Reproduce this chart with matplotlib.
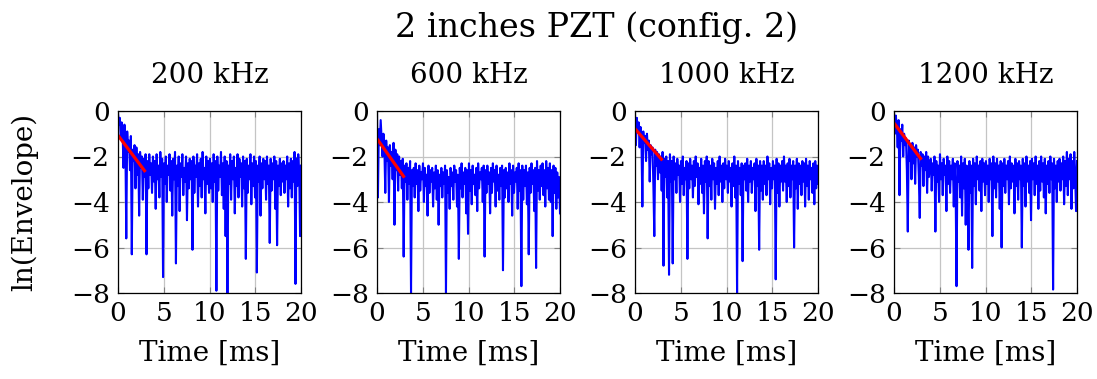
import numpy as np
import matplotlib
matplotlib.use("Agg")
import matplotlib.pyplot as plt

plt.rcParams['font.family'] = ['DejaVu Serif']

suptitle = "2 inches PZT (config. 2)"
freq_labels = ["200 kHz", "600 kHz", "1000 kHz", "1200 kHz"]
xlabel = "Time [ms]"
ylabel = "ln(Envelope)"
xticks = [0, 5, 10, 15, 20]
yticks = [0, -2, -4, -6, -8]
t_start, t_end = 0.0, 20.0

env_200 = [
    -0.1, -0.6, -0.3, -1.2, -0.5, -1.0, -2.5, -0.6, -1.4, -5.6, -0.9, -1.8, -1.3, -2.6, -1.1, -6.3, -1.7, -2.2, -1.5, -3.4,
    -1.6, -2.8, -1.9, -4.6, -1.8, -2.5, -2.0, -3.9, -2.1, -2.9, -1.9, -6.3, -2.2, -3.4, -1.9, -2.8, -2.3, -3.6, -2.0, -3.1,
    -2.2, -4.3, -1.9, -3.0, -2.4, -3.8, -1.8, -2.9, -2.1, -7.3, -2.3, -3.2, -2.0, -4.0, -2.4, -2.8, -1.9, -3.5, -2.2, -4.6,
    -2.1, -3.0, -1.8, -6.7, -2.4, -3.3, -2.0, -4.4, -2.3, -2.9, -1.9, -3.7, -2.5, -3.1, -2.0, -4.8, -2.3, -3.4, -2.1, -3.0,
    -2.2, -6.1, -2.0, -3.6, -2.4, -2.9, -1.9, -4.2, -2.3, -3.3, -2.1, -3.8, -1.8, -3.0, -2.5, -4.5, -2.0, -3.2, -2.2, -3.6,
    -2.1, -3.4, -2.3, -4.0, -1.9, -3.1, -2.2, -7.9, -2.0, -3.5, -2.4, -2.9, -1.8, -3.7, -2.3, -4.3, -2.0, -5.5, -2.2, -8.0,
    -2.4, -3.2, -1.9, -3.9, -2.2, -3.0, -2.0, -4.5, -2.5, -3.3, -1.9, -3.8, -2.1, -2.9, -2.3, -4.2, -2.0, -3.4, -2.2, -6.5,
    -2.1, -3.6, -2.4, -3.0, -1.9, -4.1, -2.3, -3.3, -2.0, -3.8, -2.2, -7.1, -2.4, -3.1, -2.0, -4.6, -2.3, -3.4, -2.1, -3.0,
    -2.2, -3.9, -2.0, -3.2, -2.4, -5.8, -2.1, -3.5, -2.3, -3.0, -2.0, -4.3, -2.2, -5.9, -2.4, -3.3, -2.1, -3.7, -2.3, -3.1,
    -2.2, -3.6, -2.4, -3.0, -2.0, -4.2, -2.3, -3.4, -2.1, -3.8, -2.2, -3.1, -1.8, -7.6, -2.1, -3.3, -1.9, -2.6, -5.5, -2.4,
]

env_600 = [
    -0.1, -3.8, -0.8, -1.5, -0.4, -1.2, -2.0, -1.0, -1.6, -3.6, -1.3, -2.2, -1.6, -4.0, -1.5, -2.4, -1.8, -3.0, -1.4, -5.0,
    -1.7, -2.6, -1.9, -3.5, -2.0, -2.8, -2.2, -3.4, -2.1, -6.4, -2.4, -3.1, -2.3, -3.9, -2.5, -3.2, -2.2, -8.0, -2.6, -3.3,
    -2.5, -3.8, -2.3, -3.2, -2.6, -4.4, -2.4, -3.5, -2.7, -3.0, -2.3, -4.0, -2.5, -3.3, -2.8, -4.6, -2.4, -3.6, -2.6, -3.1,
    -2.5, -4.2, -2.7, -3.4, -2.4, -3.9, -2.6, -5.0, -2.8, -3.3, -2.5, -3.8, -2.7, -3.2, -2.4, -8.0, -2.6, -3.6, -2.9, -4.3,
    -2.5, -3.3, -2.7, -3.9, -2.4, -3.1, -2.6, -4.2, -2.8, -6.5, -2.5, -3.4, -2.3, -3.8, -2.7, -3.2, -2.5, -4.5, -2.6, -5.4,
    -2.3, -3.5, -2.6, -4.1, -2.4, -3.2, -2.8, -3.7, -2.5, -4.4, -2.3, -3.4, -2.7, -3.0, -2.5, -4.0, -2.4, -6.4, -2.6, -3.6,
    -2.4, -3.2, -2.7, -4.5, -2.5, -3.6, -2.3, -3.1, -2.6, -4.2, -2.4, -3.5, -2.8, -3.9, -2.5, -3.3, -2.4, -7.0, -2.6, -3.8,
    -2.5, -3.4, -2.7, -4.0, -2.3, -3.2, -2.6, -4.6, -2.4, -3.6, -2.7, -3.1, -2.5, -4.3, -2.3, -3.5, -2.6, -7.7, -2.4, -3.9,
    -2.6, -3.3, -2.4, -4.1, -2.7, -6.3, -2.5, -3.6, -2.3, -3.2, -2.6, -4.4, -2.5, -6.9, -2.2, -3.5, -2.6, -3.9, -2.4, -3.3,
    -2.3, -3.7, -2.6, -4.2, -2.2, -3.4, -2.5, -3.9, -2.3, -4.0, -2.6, -5.5, -2.4, -3.6, -2.5, -4.3, -2.7, -3.8, -2.9, -4.5,
]

env_1000 = [
    -0.2, -1.5, -0.3, -0.9, -0.5, -1.6, -0.7, -1.2, -4.2, -0.9, -1.4, -1.1, -2.2, -1.0, -1.7, -1.3, -3.1, -1.5, -1.9, -1.6,
    -3.3, -5.5, -1.7, -2.4, -1.8, -3.0, -1.9, -2.7, -2.0, -3.5, -1.8, -6.8, -2.1, -2.9, -2.0, -3.8, -2.2, -7.2, -1.9, -3.1,
    -2.2, -6.7, -2.0, -3.0, -2.3, -3.6, -2.1, -2.8, -2.4, -4.0, -2.2, -3.2, -2.0, -3.7, -2.5, -3.0, -2.2, -6.5, -2.3, -3.4,
    -2.1, -3.0, -2.4, -3.8, -2.2, -3.3, -2.0, -2.9, -2.3, -4.1, -2.5, -3.2, -2.1, -3.6, -2.4, -4.5, -2.2, -3.1, -2.0, -5.6,
    -2.2, -3.3, -2.4, -3.9, -2.1, -3.0, -2.3, -4.3, -2.5, -3.2, -2.2, -3.7, -2.0, -3.1, -2.4, -4.0, -2.3, -3.4, -2.1, -3.0,
    -2.4, -3.6, -2.2, -3.1, -2.5, -4.2, -2.3, -3.3, -2.0, -3.8, -2.4, -8.0, -2.2, -3.2, -2.5, -3.7, -2.3, -6.6, -2.4, -3.0,
    -2.3, -3.5, -2.1, -4.0, -2.4, -3.1, -2.2, -3.6, -2.5, -3.0, -2.3, -4.4, -2.1, -3.3, -2.4, -6.1, -2.2, -3.5, -2.4, -3.9,
    -2.2, -3.2, -2.4, -3.7, -2.0, -3.0, -2.3, -4.1, -2.5, -3.4, -2.2, -3.0, -2.4, -7.4, -2.1, -3.6, -2.3, -4.2, -2.4, -3.1,
    -2.2, -3.5, -2.0, -3.1, -2.4, -4.0, -2.3, -3.3, -2.1, -3.8, -2.4, -3.0, -2.2, -6.0, -2.4, -3.4, -2.1, -4.3, -2.3, -3.2,
    -2.4, -3.7, -2.2, -3.1, -2.3, -4.2, -2.1, -3.3, -2.4, -3.9, -2.2, -3.0, -2.5, -3.6, -2.3, -4.1, -2.2, -3.4, -2.4, -3.2,
]

env_1200 = [
    -0.1, -1.0, -0.2, -0.7, -1.6, -0.4, -3.7, -0.8, -1.3, -0.6, -2.0, -1.0, -1.5, -1.2, -2.6, -5.3, -1.3, -2.2, -1.5, -3.0,
    -1.4, -2.3, -1.6, -3.2, -1.5, -2.0, -1.7, -2.9, -4.7, -1.8, -2.4, -1.9, -3.3, -2.0, -2.6, -1.8, -3.6, -2.0, -2.9, -2.3,
    -2.1, -3.5, -2.3, -2.8, -2.0, -5.3, -2.2, -3.1, -2.4, -4.0, -1.9, -3.0, -2.3, -3.7, -2.1, -2.8, -2.4, -4.4, -2.0, -3.2,
    -2.2, -3.6, -2.4, -3.0, -2.1, -4.2, -2.3, -3.3, -7.7, -2.2, -3.1, -2.4, -3.8, -2.0, -4.6, -2.3, -3.4, -2.1, -5.0, -2.4,
    -3.2, -6.1, -2.2, -3.6, -2.4, -6.9, -2.1, -3.3, -2.3, -4.1, -2.0, -3.0, -2.4, -3.5, -2.2, -4.4, -2.1, -3.1, -2.3, -3.7,
    -2.2, -3.2, -2.4, -4.0, -2.1, -3.0, -2.3, -5.5, -2.0, -3.4, -2.3, -3.8, -2.1, -3.1, -2.4, -4.3, -2.2, -6.0, -2.3, -3.3,
    -2.1, -3.6, -2.4, -3.0, -2.2, -4.1, -2.0, -3.4, -2.3, -3.1, -2.4, -4.5, -2.1, -3.3, -2.3, -3.9, -2.2, -3.0, -2.4, -6.0,
    -2.1, -3.3, -2.3, -4.2, -2.0, -3.1, -2.4, -3.6, -2.2, -4.8, -2.1, -3.0, -2.3, -3.7, -2.0, -3.2, -2.4, -4.3, -2.2, -3.5,
    -2.0, -3.1, -2.3, -3.8, -2.1, -4.5, -2.4, -3.2, -2.2, -3.6, -2.0, -3.0, -2.3, -7.85, -2.1, -3.4, -2.4, -4.0, -2.2, -3.1,
    -2.1, -3.5, -2.3, -3.0, -2.0, -4.1, -2.2, -3.3, -1.8, -3.7, -2.1, -3.0, -1.9, -4.3, -2.2, -3.4, -1.8, -2.9, -4.4, -2.2,
]

# linear fit segments (time in ms, ln envelope)
fit_t = [0.0, 3.0]
fit_200 = [-1.07, -2.68]
fit_600 = [-1.22, -2.93]
fit_1000 = [-0.78, -2.17]
fit_1200 = [-0.53, -2.14]

series = [env_200, env_600, env_1000, env_1200]
fits = [fit_200, fit_600, fit_1000, fit_1200]

W, H = 1097, 379
fig = plt.figure(figsize=(W / 100, H / 100), dpi=100)

lefts = [118, 377, 635, 894]
ax_w, ax_top, ax_bot = 183, 111, 293

tick_fs = 19
lab_fs = 20
for i, (env, fit, lab) in enumerate(zip(series, fits, freq_labels)):
    ax = fig.add_axes([lefts[i] / W, 1 - ax_bot / H, ax_w / W, (ax_bot - ax_top) / H])
    t = np.linspace(t_start, t_end, len(env))
    ax.plot(t, env, color='blue', lw=1.5, zorder=3)
    ax.plot(fit_t, fit, color='red', lw=2.3, zorder=4, solid_capstyle='butt')
    ax.set_xlim(0, 20)
    ax.set_ylim(-8, 0)
    ax.set_xticks(xticks)
    ax.set_yticks(yticks)
    ax.grid(True, color='#c4c4c4', lw=0.9, zorder=0)
    ax.tick_params(direction='in', top=True, right=True, length=4, width=0.8,
                   color='#808080', labelsize=tick_fs, pad=6)
    for s in ax.spines.values():
        s.set_linewidth(0.9)
        s.set_zorder(5)
    ax.set_title(lab, fontsize=lab_fs, pad=20)
    ax.set_xlabel(xlabel, fontsize=lab_fs, labelpad=10)

fig.text(597 / W, 1 - 37 / H, suptitle, fontsize=24, ha='center', va='baseline')
fig.text(25 / W, 1 - 202 / H, ylabel, fontsize=lab_fs, rotation=90, ha='center', va='center')

fig.savefig("out.png", dpi=100)
